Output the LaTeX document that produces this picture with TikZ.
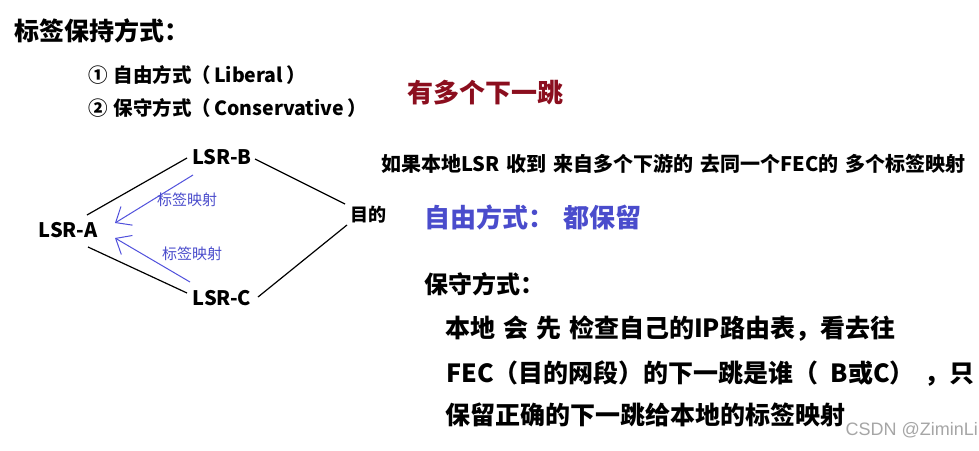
\documentclass[tikz,border=0pt]{standalone}
\usepackage{fontspec}
\setmainfont{Noto Sans CJK SC}
\newfontfamily\wmfont{Liberation Sans}
\usetikzlibrary{arrows.meta}
\definecolor{darkred}{HTML}{8B0E1E}
\definecolor{myblue}{HTML}{4A4CCC}
\definecolor{arrowblue}{HTML}{5050DC}
\tikzset{
  txt/.style={anchor=west, inner sep=0pt, font=\bfseries},
  router/.style={inner sep=0pt, font=\bfseries\fontsize{20}{24}\selectfont},
  link/.style={draw=black, line width=1.2pt},
  maparrow/.style={draw=arrowblue, line width=1pt, -{Straight Barb[length=13pt,width=22pt,line width=1pt]}},
  maplabel/.style={inner sep=0pt, text=myblue, font=\fontsize{15}{17}\selectfont}
}
\begin{document}
\begin{tikzpicture}[x=1pt,y=-1pt]
\useasboundingbox (0,0) rectangle (979,450);
\fill[white] (0,0) rectangle (979,450);

% headings
\node[txt, font=\bfseries\fontsize{25}{29}\selectfont] (title) at (14,31) {标签保持方式：};
\node[txt, font=\bfseries\fontsize{19.5}{23}\selectfont] (lib) at (88,75) {①\hspace{6pt}自由方式（\hspace{3pt}Liberal\hspace{3pt}）};
\node[txt, font=\bfseries\fontsize{19.5}{23}\selectfont] (con) at (88,108) {②\hspace{6pt}保守方式（\hspace{3pt}Conservative\hspace{3pt}）};

\node[txt, text=darkred, font=\bfseries\fontsize{26}{30}\selectfont] (multi) at (407,93) {有多个下一跳};
\node[txt, font=\bfseries\fontsize{20}{24}\selectfont] (cond) at (381,164) {如果本地LSR\hspace{7pt}收到\hspace{7pt}来自多个下游的\hspace{7pt}去同一个FEC的\hspace{7pt}多个标签映射};
\node[txt, text=myblue, font=\bfseries\fontsize{26}{30}\selectfont] (free) at (424,217) {自由方式：\hspace{9pt}都保留};

\node[txt, font=\bfseries\fontsize{24}{28}\selectfont] (cons) at (424,284) {保守方式：};
\node[txt, font=\bfseries\fontsize{25}{29}\selectfont] (l1) at (445,329) {本地\hspace{8pt}会\hspace{8pt}先\hspace{8pt}检查自己的IP路由表，看去往};
\node[txt, font=\bfseries\fontsize{25}{29}\selectfont] (l2) at (446,374) {FEC（目的网段）的下一跳是谁（\hspace{12pt}B或C）\hspace{10pt}，只};
\node[txt, font=\bfseries\fontsize{25}{29}\selectfont] (l3) at (445,415) {保留正确的下一跳给本地的标签映射};

\node[anchor=east, inner sep=0pt, text=black!35, font=\wmfont\fontsize{18}{21}\selectfont] (wm) at (978,430) {CSDN @ZiminLi};

% routers
\node[router] (A) at (68,230) {LSR-A};
\node[router] (B) at (222,157) {LSR-B};
\node[router] (C) at (222,298) {LSR-C};
\node[inner sep=0pt, font=\bfseries\fontsize{18}{20}\selectfont] (D) at (368,215) {目的};

% links
\draw[link] ([shift={(19,-15)}]A.center) -- ([shift={(-35,1)}]B.center);
\draw[link] ([shift={(33,2)}]B.center) -- ([shift={(-23,-11)}]D.center);
\draw[link] ([shift={(20,17)}]A.center) -- ([shift={(-35,-5)}]C.center);
\draw[link] ([shift={(36,-1)}]C.center) -- ([shift={(-21,10)}]D.center);

% label mappings
\draw[maparrow] ([shift={(-29,18)}]B.center) -- ([shift={(47,-7)}]A.center);
\draw[maparrow] ([shift={(-32,-16)}]C.center) -- ([shift={(47,8)}]A.center);
\node[maplabel] (m1) at (187,200) {标签映射};
\node[maplabel] (m2) at (192,254) {标签映射};
\end{tikzpicture}
\end{document}
